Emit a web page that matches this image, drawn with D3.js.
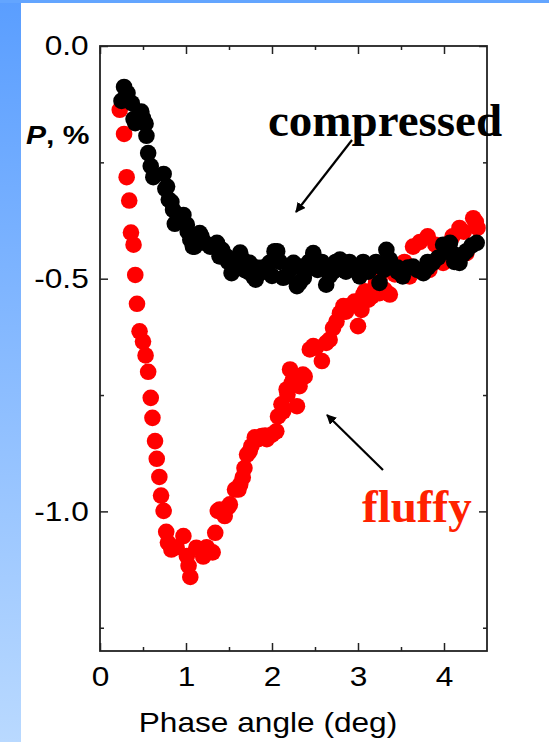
<!DOCTYPE html>
<html lang="en">
<head>
    <meta charset="UTF-8">
    <title>Polarization vs phase angle</title>
    <script src="https://d3js.org/d3.v7.min.js"></script>
    <style>
        body { margin: 0; background: #fff; }
        text { font-family: Arial, "Liberation Sans", sans-serif; }
    </style>
</head>
<body>
    <div id="chart"></div>

    <script>
        // phase angle (deg), P (%) -- fluffy sample
        const fluffyX = [0.23, 0.28, 0.31, 0.34, 0.36, 0.39, 0.41, 0.43, 0.46, 0.50, 0.53, 0.56, 0.59, 0.61,
            0.64, 0.66, 0.69, 0.71, 0.74, 0.77, 0.79, 0.83, 0.89, 0.97, 1.01, 1.03, 1.05, 1.12, 1.20, 1.24,
            1.31, 1.34, 1.37, 1.39, 1.42, 1.45, 1.49, 1.51, 1.57, 1.61, 1.63, 1.66, 1.68, 1.71, 1.74, 1.76,
            1.80, 1.84, 1.88, 1.92, 1.94, 2.00, 2.05, 2.07, 2.11, 2.13, 2.17, 2.18, 2.21, 2.23, 2.25, 2.29,
            2.32, 2.36, 2.38, 2.44, 2.48, 2.51, 2.58, 2.63, 2.67, 2.71, 2.75, 2.79, 2.83, 2.86, 2.90, 2.96,
            3.00, 3.04, 3.06, 3.08, 3.12, 3.16, 3.21, 3.25, 3.25, 3.31, 3.37, 3.43, 3.48, 3.54, 3.60, 3.64,
            3.72, 3.81, 3.83, 3.90, 3.99, 4.04, 4.10, 4.18, 4.23, 4.26, 4.34, 4.37, 4.39];
        const fluffyY = [-0.137, -0.189, -0.282, -0.332, -0.401, -0.427, -0.492, -0.554, -0.613, -0.635, -0.665,
            -0.700, -0.756, -0.799, -0.849, -0.887, -0.926, -0.966, -0.999, -1.044, -1.067, -1.082, -1.077,
            -1.053, -1.096, -1.117, -1.141, -1.078, -1.097, -1.077, -1.088, -1.046, -0.999, -0.996, -1.000,
            -1.010, -0.991, -0.985, -0.953, -0.953, -0.942, -0.927, -0.907, -0.878, -0.871, -0.860, -0.841,
            -0.845, -0.838, -0.837, -0.845, -0.835, -0.828, -0.796, -0.770, -0.785, -0.738, -0.749, -0.695,
            -0.724, -0.712, -0.774, -0.731, -0.706, -0.710, -0.652, -0.645, -0.648, -0.677, -0.638, -0.631,
            -0.606, -0.592, -0.574, -0.559, -0.571, -0.559, -0.549, -0.602, -0.567, -0.534, -0.527, -0.545,
            -0.538, -0.509, -0.502, -0.531, -0.524, -0.534, -0.491, -0.474, -0.464, -0.495, -0.431, -0.421,
            -0.409, -0.481, -0.427, -0.466, -0.438, -0.409, -0.391, -0.399, -0.445, -0.370, -0.378, -0.391];

        // compressed sample
        const compX = [0.25, 0.28, 0.32, 0.37, 0.39, 0.41, 0.48, 0.50, 0.53, 0.54, 0.56, 0.59, 0.62, 0.74,
            0.76, 0.78, 0.80, 0.83, 0.85, 0.87, 0.89, 0.91, 0.97, 1.01, 1.02, 1.05, 1.08, 1.10, 1.13, 1.16,
            1.18, 1.22, 1.28, 1.32, 1.36, 1.39, 1.42, 1.47, 1.49, 1.53, 1.57, 1.58, 1.63, 1.66, 1.68, 1.72,
            1.74, 1.78, 1.81, 1.82, 1.86, 1.89, 1.94, 1.97, 2.00, 2.03, 2.06, 2.09, 2.13, 2.17, 2.21, 2.25,
            2.29, 2.32, 2.32, 2.37, 2.39, 2.43, 2.48, 2.52, 2.53, 2.58, 2.63, 2.67, 2.71, 2.74, 2.79, 2.83,
            2.86, 2.90, 2.94, 2.99, 3.02, 3.06, 3.09, 3.12, 3.17, 3.21, 3.25, 3.30, 3.33, 3.37, 3.41, 3.46,
            3.46, 3.52, 3.58, 3.64, 3.69, 3.76, 3.81, 3.81, 3.87, 3.93, 3.99, 4.03, 4.07, 4.12, 4.12, 4.18,
            4.22, 4.26, 4.32, 4.38];
        const compY = [-0.118, -0.088, -0.101, -0.123, -0.157, -0.166, -0.141, -0.155, -0.167, -0.193, -0.230,
            -0.258, -0.282, -0.275, -0.307, -0.302, -0.330, -0.335, -0.352, -0.382, -0.378, -0.370, -0.363,
            -0.384, -0.399, -0.416, -0.431, -0.431, -0.416, -0.402, -0.409, -0.423, -0.431, -0.431, -0.423,
            -0.452, -0.438, -0.452, -0.464, -0.488, -0.476, -0.464, -0.444, -0.459, -0.481, -0.485, -0.466,
            -0.495, -0.502, -0.476, -0.488, -0.476, -0.474, -0.466, -0.494, -0.441, -0.441, -0.464, -0.498,
            -0.495, -0.481, -0.466, -0.516, -0.509, -0.474, -0.498, -0.481, -0.464, -0.445, -0.474, -0.481,
            -0.464, -0.513, -0.494, -0.485, -0.464, -0.459, -0.481, -0.485, -0.464, -0.474, -0.481, -0.495,
            -0.464, -0.476, -0.485, -0.474, -0.464, -0.509, -0.481, -0.438, -0.459, -0.474, -0.476, -0.485,
            -0.495, -0.476, -0.474, -0.481, -0.488, -0.464, -0.476, -0.466, -0.455, -0.427, -0.442, -0.423,
            -0.448, -0.464, -0.466, -0.448, -0.441, -0.429, -0.423];

        const xMajor = [0, 1, 2, 3, 4];
        const xMinor = [0.5, 1.5, 2.5, 3.5];
        const yMajor = [0, -0.5, -1.0];
        const yMinor = [-0.25, -0.75, -1.25];

        const W = 549, H = 742;
        const plot = { left: 100, right: 487, top: 46, bottom: 651 };
        const stretch = "scale(1.13,1)";

        const svg = d3.select("#chart").append("svg")
            .attr("width", W)
            .attr("height", H);

        // blue slide frame
        const defs = svg.append("defs");
        const grad = defs.append("linearGradient")
            .attr("id", "side").attr("x1", 0).attr("y1", 0).attr("x2", 0).attr("y2", 1);
        grad.append("stop").attr("offset", "0%").attr("stop-color", "#5a9eff");
        grad.append("stop").attr("offset", "100%").attr("stop-color", "#b9d9ff");
        svg.append("rect").attr("x", 0).attr("y", 0).attr("width", 21).attr("height", H).attr("fill", "url(#side)");
        svg.append("rect").attr("x", 0).attr("y", 0).attr("width", W).attr("height", 3).attr("fill", "#63a5ff");

        const x = d3.scaleLinear().domain([0, 4.5]).range([plot.left, plot.right]);
        const y = d3.scaleLinear().domain([-1.3, 0]).range([plot.bottom, plot.top]);

        const fluffy = fluffyX.map((d, i) => ({ x: d, y: fluffyY[i] }));
        const comp = compX.map((d, i) => ({ x: d, y: compY[i] }));

        // points
        svg.append("g").selectAll("circle")
            .data(fluffy)
            .enter().append("circle")
            .attr("cx", d => x(d.x))
            .attr("cy", d => y(d.y))
            .attr("r", 8.3)
            .style("fill", "#ff0000");

        svg.append("g").selectAll("circle")
            .data(comp)
            .enter().append("circle")
            .attr("cx", d => x(d.x))
            .attr("cy", d => y(d.y))
            .attr("r", 8.3)
            .style("fill", "#000");

        // axes: ticks inside on all four sides
        function styleAxis(g) {
            g.select(".domain").remove();
            g.selectAll("line").attr("stroke", "#222").attr("stroke-width", 1.5);
        }
        const fmtX = d => String(d);
        const fmtY = d => d.toFixed(1);

        svg.append("g").attr("transform", `translate(0,${plot.bottom})`)
            .call(d3.axisBottom(x).tickValues(xMajor).tickSize(-8).tickPadding(15).tickFormat(fmtX))
            .call(styleAxis)
            .call(g => g.selectAll("text").attr("font-size", 28).attr("fill", "#000").attr("transform", stretch));
        svg.append("g").attr("transform", `translate(0,${plot.bottom})`)
            .call(d3.axisBottom(x).tickValues(xMinor).tickSize(-4).tickFormat(""))
            .call(styleAxis);
        svg.append("g").attr("transform", `translate(0,${plot.top})`)
            .call(d3.axisTop(x).tickValues(xMajor).tickSize(-8).tickFormat(""))
            .call(styleAxis);
        svg.append("g").attr("transform", `translate(0,${plot.top})`)
            .call(d3.axisTop(x).tickValues(xMinor).tickSize(-4).tickFormat(""))
            .call(styleAxis);

        svg.append("g").attr("transform", `translate(${plot.left},0)`)
            .call(d3.axisLeft(y).tickValues(yMajor).tickSize(-8).tickPadding(10).tickFormat(fmtY))
            .call(styleAxis)
            .call(g => g.selectAll("text").attr("font-size", 28).attr("fill", "#000").attr("transform", stretch));
        svg.append("g").attr("transform", `translate(${plot.left},0)`)
            .call(d3.axisLeft(y).tickValues(yMinor).tickSize(-4).tickFormat(""))
            .call(styleAxis);
        svg.append("g").attr("transform", `translate(${plot.right},0)`)
            .call(d3.axisRight(y).tickValues(yMajor).tickSize(-8).tickFormat(""))
            .call(styleAxis);
        svg.append("g").attr("transform", `translate(${plot.right},0)`)
            .call(d3.axisRight(y).tickValues(yMinor).tickSize(-4).tickFormat(""))
            .call(styleAxis);

        // frame
        svg.append("rect")
            .attr("x", plot.left).attr("y", plot.top)
            .attr("width", plot.right - plot.left).attr("height", plot.bottom - plot.top)
            .attr("fill", "none").attr("stroke", "#222").attr("stroke-width", 1.8);

        // axis titles
        svg.append("text")
            .attr("transform", `translate(268,732) ${stretch}`)
            .attr("text-anchor", "middle")
            .attr("font-size", 28)
            .text("Phase angle (deg)");

        const yl = svg.append("text")
            .attr("transform", `translate(26,144) scale(1.2,1)`)
            .attr("font-size", 25)
            .attr("font-weight", "bold");
        yl.append("tspan").attr("font-style", "italic").text("P");
        yl.append("tspan").text(", %");

        // annotations
        defs.append("marker")
            .attr("id", "head").attr("viewBox", "0 0 10 10")
            .attr("refX", 9).attr("refY", 5)
            .attr("markerWidth", 10).attr("markerHeight", 10)
            .attr("markerUnits", "userSpaceOnUse")
            .attr("orient", "auto")
            .append("path").attr("d", "M0,0 L10,5 L0,10 z").attr("fill", "#000");

        svg.append("text")
            .attr("x", 268).attr("y", 136)
            .attr("font-weight", "bold")
            .attr("font-size", 47)
            .style("font-family", "'Liberation Serif', 'Times New Roman', serif")
            .text("compressed");
        svg.append("line")
            .attr("x1", 352).attr("y1", 140).attr("x2", 296).attr("y2", 212)
            .attr("stroke", "#000").attr("stroke-width", 2.2)
            .attr("marker-end", "url(#head)");

        svg.append("text")
            .attr("x", 362).attr("y", 522)
            .attr("font-weight", "bold")
            .attr("font-size", 47)
            .attr("fill", "#ff2200")
            .style("font-family", "'Liberation Serif', 'Times New Roman', serif")
            .text("fluffy");
        svg.append("line")
            .attr("x1", 383).attr("y1", 470).attr("x2", 327).attr("y2", 415)
            .attr("stroke", "#000").attr("stroke-width", 2.2)
            .attr("marker-end", "url(#head)");
    </script>
</body>
</html>
